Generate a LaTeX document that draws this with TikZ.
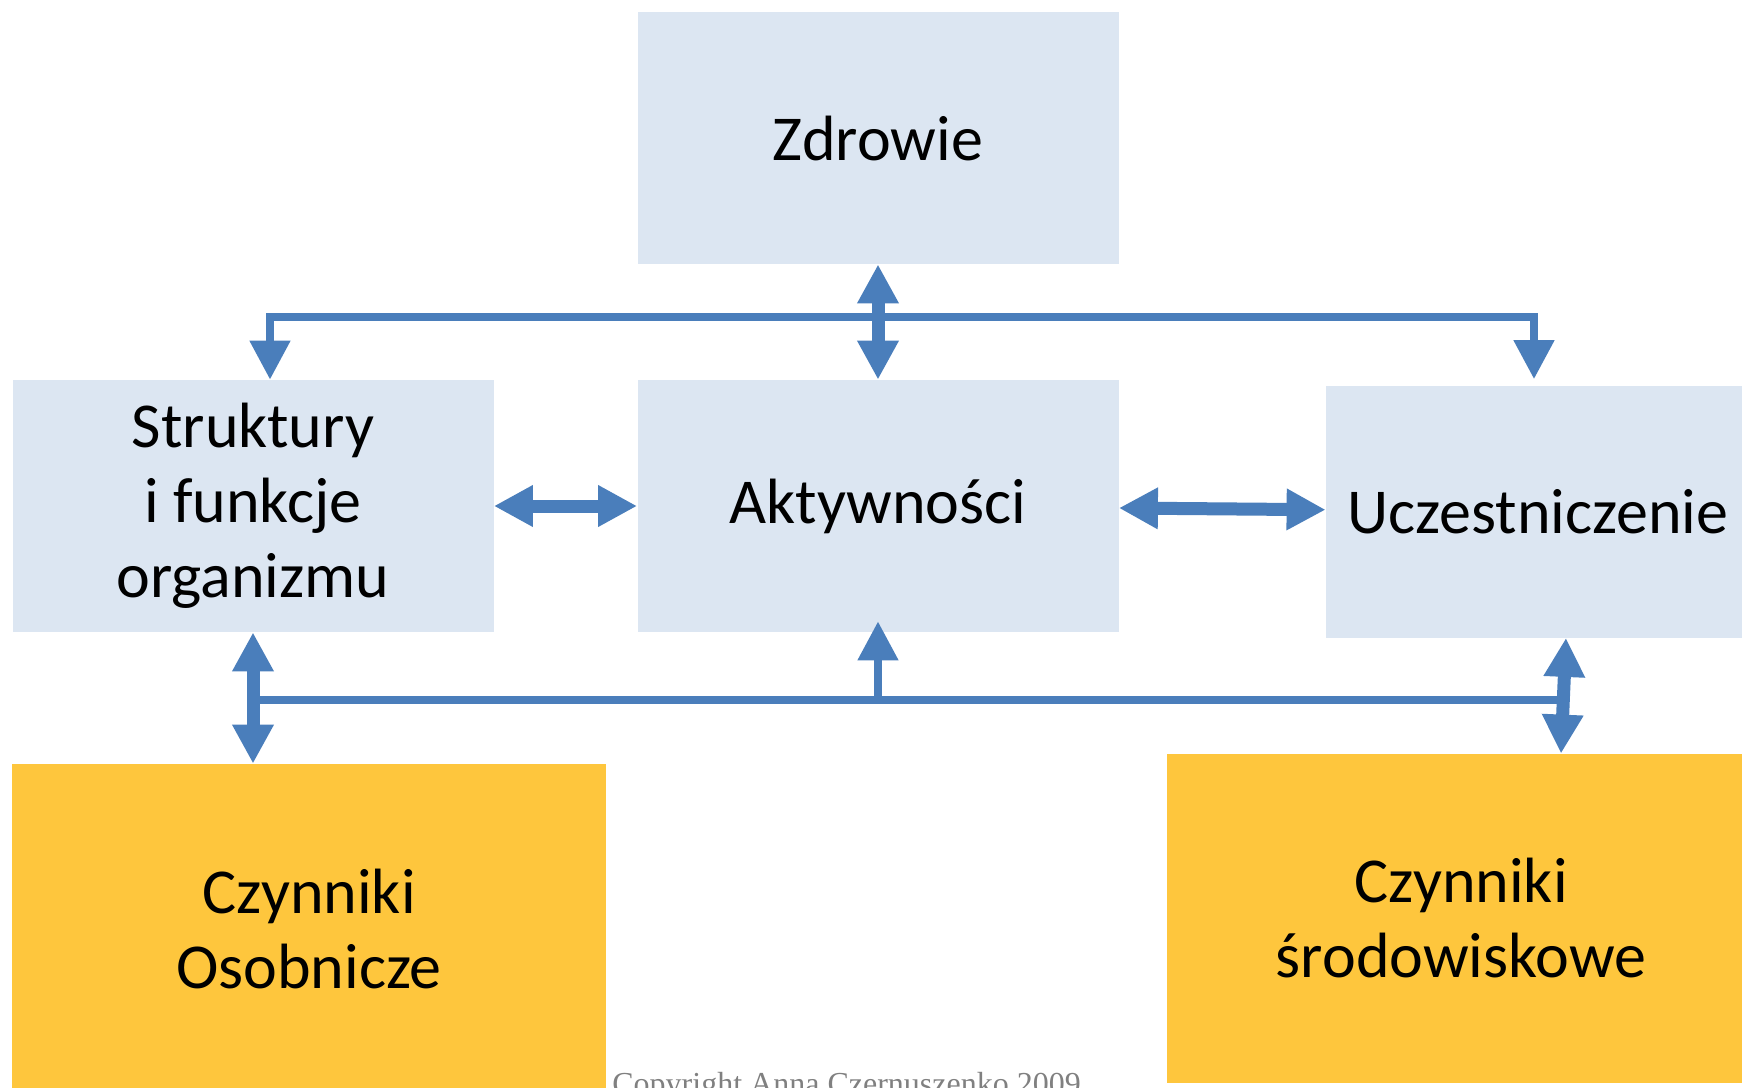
\documentclass[tikz,border=0pt]{standalone}
\usepackage{fontspec}
\setmainfont{Carlito}
\newfontfamily\copyfont{Liberation Serif}
\usetikzlibrary{arrows.meta,calc}

\definecolor{boxblue}{RGB}{220,230,242}
\definecolor{arrowblue}{RGB}{74,126,187}
\definecolor{factoryellow}{RGB}{254,198,61}
\definecolor{copygray}{RGB}{128,128,128}

\begin{document}
\begin{tikzpicture}[x=0.5pt, y=-0.5pt,
  box/.style={fill=boxblue, minimum width=240.5pt, minimum height=126pt,
    inner sep=0pt, align=center, font=\fontsize{32}{37.5}\selectfont},
  factor/.style={box, fill=factoryellow, minimum width=297pt, minimum height=165pt},
  link/.style={arrowblue, line width=6.5pt, <->},
  bus/.style={arrowblue, line width=4pt},
  >={Triangle[width=19.5pt,length=19.5pt]}]
  % Canvas
  \clip (0,0) rectangle (1742,1088);
  \fill[white] (0,0) rectangle (1742,1088);

  % Draw boxes
  \node[box] (zdr) at (878,138) {Zdrowie};
  \node[box] (str) at (253,506) {Struktury\\i funkcje\\organizmu};
  \node[box] (akt) at (878,506) {Aktywności};
  \node[box, minimum width=212pt] (ucz) at (1538,511.5) {Uczestniczenie};
  \node[factor] (oso) at (309,929) {Czynniki\\Osobnicze};
  \node[factor, minimum width=294pt, minimum height=164.5pt] (sro) at (1461,918.5) {Czynniki\\środowiskowe};

  % Draw arrows
  \coordinate (top) at (878,317);
  \coordinate (low) at (878,700);
  \coordinate (uczfoot) at ($(ucz.south)+(26,0)$);
  \draw[link] (zdr) -- (akt);
  \draw[link] (str) -- (akt);
  \draw[link] (akt) -- (ucz);
  \draw[bus,->] (top) -| ($(str.north)+(17,0)$);
  \draw[bus,->] (top) -| ($(ucz.north)+(-4,-6)$);
  \draw[link] (str.south) -- (str.south |- oso.north);
  \draw[link] ($(ucz.south)+(28,0)$) -- ($(sro.north)+(100,0)$);
  \draw[bus] (str.south |- low) -- (uczfoot |- low);
  \draw[bus,->] (low) -- ($(akt.south)+(0,-11)$);

  % Copyright
  \node[anchor=base west, inner sep=0pt, text=copygray,
    font=\copyfont\fontsize{16}{19}\selectfont] (copy) at (612,1094)
    {Copyright Anna Czernuszenko 2009};
\end{tikzpicture}
\end{document}
